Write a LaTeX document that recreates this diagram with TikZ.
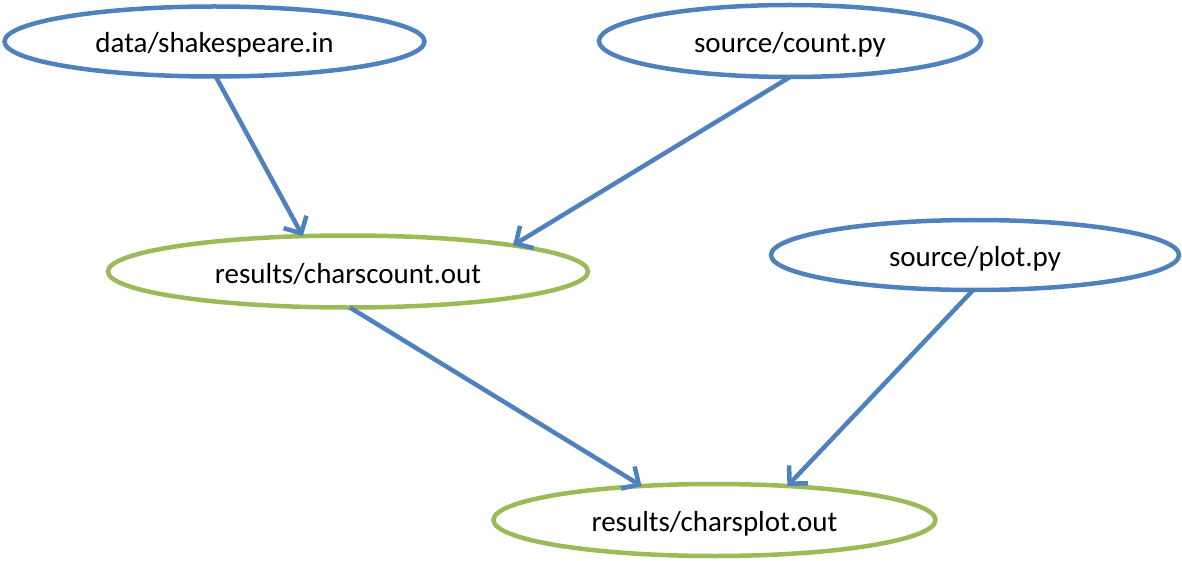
\documentclass[tikz,border=0pt]{standalone}
\usepackage{fontspec}
\setmainfont{Carlito}
\usetikzlibrary{shapes.geometric,arrows.meta}
\definecolor{oblue}{RGB}{79,129,189}
\definecolor{ogreen}{RGB}{155,187,89}
\tikzset{
  file/.style={ellipse, draw=#1, line width=4.5pt, inner sep=0pt, outer sep=0pt,
    text height=29pt, text depth=6pt,
    font=\fontsize{29}{33}\selectfont},
  conn/.style={draw=oblue, line width=4.5pt,
    -{Straight Barb[length=13pt,width=26pt,line width=4.5pt]}}
}
\begin{document}
\begin{tikzpicture}[x=1pt,y=-1pt]
\useasboundingbox (0,0) rectangle (1182,561);
\node[file=oblue, minimum width=420pt, minimum height=70pt] (shk) at (214.5,41.5) {data/shakespeare.in};
\node[file=oblue, minimum width=382pt, minimum height=72pt] (cnt) at (790,41) {source/count.py};
\node[file=ogreen, minimum width=480pt, minimum height=72pt] (ccout) at (348,271.5) {results/charscount.out};
\node[file=oblue, minimum width=408pt, minimum height=70pt] (plt) at (975,255) {source/plot.py};
\node[file=ogreen, minimum width=442pt, minimum height=72pt] (cpout) at (714.5,520) {results/charsplot.out};
\draw[conn] (shk.-88) -- (ccout.142);
\draw[conn] (cnt.-90) -- (ccout.9);
\draw[conn] (ccout.-87) -- (cpout.155);
\draw[conn] (plt.-93) -- (cpout.25);
\end{tikzpicture}
\end{document}
